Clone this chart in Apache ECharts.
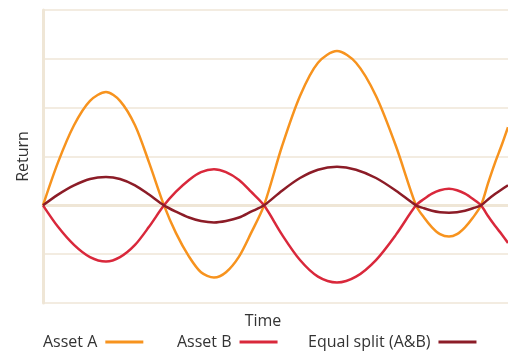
<!DOCTYPE html>
<html>
<head>
<meta charset="utf-8">
<script src="https://cdn.jsdelivr.net/npm/echarts@6/dist/echarts.min.js"></script>
<style>
  html, body { margin: 0; padding: 0; background: #fff; }
  #chart { width: 508px; height: 355px; }
</style>
</head>
<body>
<div id="chart"></div>
<script>
// time positions (arbitrary units) of the points
const times = [
  0, 15, 31, 47, 63, 77, 92, 106, 121,
  133, 146, 158, 171, 183, 196, 208, 221,
  239, 257, 275, 294, 313, 333, 353, 373,
  381, 389, 397, 406, 414, 422, 430, 438,
  445, 452, 459, 465
];
const assetA = [
  0, 0.88, 1.64, 2.14, 2.32, 2.14, 1.64, 0.88, 0,
  -0.57, -1.05, -1.37, -1.48, -1.37, -1.05, -0.57, 0,
  1.21, 2.24, 2.92, 3.16, 2.92, 2.24, 1.21, 0,
  -0.25, -0.45, -0.59, -0.64, -0.59, -0.45, -0.25, 0,
  0.45, 0.87, 1.25, 1.6
];
const assetB = [
  0, -0.44, -0.81, -1.06, -1.15, -1.06, -0.81, -0.44, 0,
  0.28, 0.52, 0.68, 0.74, 0.68, 0.52, 0.28, 0,
  -0.6, -1.12, -1.46, -1.58, -1.46, -1.12, -0.6, 0,
  0.13, 0.24, 0.31, 0.34, 0.31, 0.24, 0.13, 0,
  -0.22, -0.42, -0.6, -0.77
];
const equalSplit = [
  0, 0.22, 0.41, 0.54, 0.58, 0.54, 0.41, 0.22, 0,
  -0.13, -0.25, -0.32, -0.35, -0.32, -0.25, -0.13, 0,
  0.3, 0.56, 0.73, 0.79, 0.73, 0.56, 0.3, 0,
  -0.06, -0.11, -0.14, -0.15, -0.14, -0.11, -0.06, 0,
  0.12, 0.23, 0.33, 0.41
];

const seriesNames = ['Asset A', 'Asset B', 'Equal split (A&B)'];
const colors = ['#f7931e', '#d9283b', '#8c1c27'];
const legendLeft = [38, 172, 303];

const toPoints = vals => vals.map((v, i) => [times[i], v]);

const chart = echarts.init(document.getElementById('chart'));
const font = "'Open Sans', 'Noto Sans', sans-serif";

// one legend per item so each sits where the original puts it
const legends = seriesNames.map((name, i) => ({
  data: [name],
  bottom: 0,
  left: legendLeft[i],
  align: 'right',
  icon: 'rect',
  itemWidth: 38,
  itemHeight: 3,
  selectedMode: false,
  textStyle: { color: '#333', fontSize: 16, fontFamily: font, padding: [0, 3, 0, 0] }
}));

const option = {
  animation: false,
  textStyle: { fontFamily: font },
  grid: { left: 43, right: 0, top: 10, bottom: 52 },
  legend: legends,
  xAxis: {
    type: 'value',
    min: 0,
    max: 465,
    name: 'Time',
    nameLocation: 'middle',
    nameGap: 10,
    nameTextStyle: { color: '#333', fontSize: 16, padding: [0, 25, 0, 0] },
    axisLine: { show: true, lineStyle: { color: '#efe6d6', width: 3 } },
    axisTick: { show: false },
    axisLabel: { show: false },
    splitLine: { show: false }
  },
  yAxis: {
    type: 'value',
    min: -2,
    max: 4,
    interval: 1,
    name: 'Return',
    nameLocation: 'middle',
    nameGap: 12,
    nameTextStyle: { color: '#333', fontSize: 16 },
    axisLine: { show: true, lineStyle: { color: '#efe6d6', width: 3 } },
    axisTick: { show: false },
    axisLabel: { show: false },
    splitLine: { show: true, lineStyle: { color: '#f3ece1', width: 2 } }
  },
  series: [
    {
      name: seriesNames[0],
      type: 'line',
      data: toPoints(assetA),
      smooth: 0.3,
      showSymbol: false,
      color: colors[0],
      lineStyle: { width: 2.5 },
      z: 3,
      markLine: {
        symbol: ['none', 'none'],
        label: { show: false },
        silent: true,
        z: 1,
        lineStyle: { color: '#efe6d6', width: 3, type: 'solid' },
        data: [{ yAxis: 0 }]
      }
    },
    {
      name: seriesNames[1],
      type: 'line',
      data: toPoints(assetB),
      smooth: 0.3,
      showSymbol: false,
      color: colors[1],
      lineStyle: { width: 2.5 },
      z: 4
    },
    {
      name: seriesNames[2],
      type: 'line',
      data: toPoints(equalSplit),
      smooth: 0.3,
      showSymbol: false,
      color: colors[2],
      lineStyle: { width: 2.5 },
      z: 5
    }
  ]
};

chart.setOption(option);
</script>
</body>
</html>
